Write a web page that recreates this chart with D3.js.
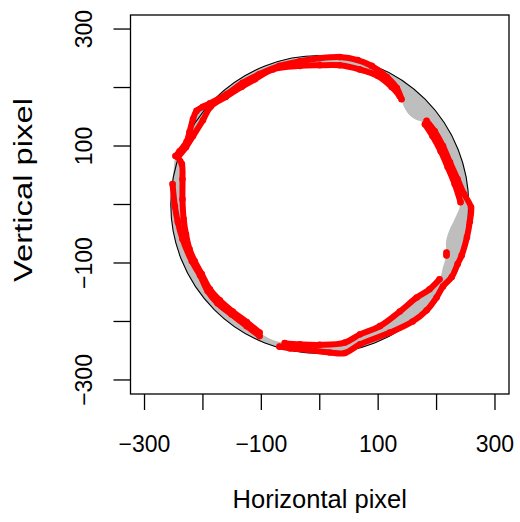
<!DOCTYPE html>
<html>
<head>
<meta charset="utf-8">
<script src="https://cdn.jsdelivr.net/npm/d3@7"></script>
<style>
  body { margin: 0; background: #ffffff; }
  svg text { font-family: "Liberation Sans", Arial, Helvetica, sans-serif; fill: #000000; }
</style>
</head>
<body>
<svg id="chart" width="520" height="522"></svg>
<script>
// target circle (stimulus path), in screen pixels
var targetRadius = 255;

// axis ticks
var axisTicks = [-300, -200, -100, 0, 100, 200, 300];
var axisLabels = [-300, -100, 100, 300];

// gaze samples, [x, y] in pixels; a third value 1 marks a saccade sample (no red mark)
var passA = [
  [-247, 83], [-240, 91], [-228, 107], [-223, 124], [-217, 146], [-211, 160], [-200, 167],
  [-188, 173], [-159, 189], [-132, 208], [-103, 223], [-69, 237], [-34, 245], [0, 250],
  [34, 252], [65, 247], [89, 237], [115, 218], [132, 199], [140, 180],
  [145, 166, 1], [156, 151, 1], [171, 143, 1],
  [183, 143], [197, 125], [211, 100], [223, 72], [236, 43], [247, 18], [259, -5], [257, -29],
  [252, -56], [243, -87], [236, -102], [226, -124], [211, -140], [200, -159], [183, -181],
  [159, -200], [120, -219], [69, -239], [43, -254], [17, -253], [-17, -249], [-51, -246],
  [-69, -243],
  [-86, -237, 1],
  [-103, -225], [-125, -208], [-151, -188], [-175, -169], [-192, -148], [-205, -121],
  [-219, -97], [-235, -59], [-243, -30], [-248, -3], [-252, 35],
  [-250, 60, 1]
];

var passB = [
  [-243, 81], [-229, 98], [-217, 117], [-200, 144], [-187, 167], [-161, 184], [-134, 201],
  [-111, 214], [-80, 231], [-34, 237], [0, 238], [34, 238], [68, 231], [99, 220], [123, 201],
  [137, 185],
  [145, 166, 1], [156, 151, 1], [171, 143, 1],
  [180, 137], [193, 117], [207, 91], [219, 64], [231, 35], [241, 4],
  [231, -25, 1], [221, -46, 1], [216, -65, 1],
  [217, -82], [217, -87],
  [211, -107, 1],
  [205, -128], [188, -145], [166, -159], [137, -183], [103, -208], [69, -222], [43, -236],
  [0, -240], [-34, -239], [-60, -237],
  [-86, -229, 1],
  [-103, -219], [-125, -201], [-149, -183], [-171, -164], [-188, -145], [-202, -119],
  [-214, -97], [-223, -76], [-229, -51], [-233, -25], [-235, 9], [-235, 43], [-236, 69]
];

var passes = [passA, passB];

(function(){
  'use strict';
  var svg = d3.select('#chart');
  var left = 130.5, right = 509, top = 15, bottom = 394;

  var x = d3.scaleLinear().domain([-324, 324]).range([left, right]);
  var y = d3.scaleLinear().domain([-324, 324]).range([bottom, top]);

  var cx = x(0), cy = y(0), rPx = x(targetRadius) - x(0);

  var plot = svg.append('g').attr('id', 'plot');

  // gray links: area between target circle and each gaze pass
  var polyLine = d3.line()
    .x(function(d){ return x(d[0]); })
    .y(function(d){ return y(d[1]); })
    .curve(d3.curveCatmullRomClosed.alpha(0.5));

  passes.forEach(function(pass){
    var p = d3.path();
    p.moveTo(cx + rPx, cy);
    p.arc(cx, cy, rPx, 0, 2 * Math.PI);
    p.closePath();
    plot.append('path')
      .attr('d', p.toString() + polyLine(pass))
      .attr('fill', '#bebebe')
      .attr('fill-rule', 'evenodd')
      .attr('stroke', 'none');
  });

  // target circle
  plot.append('circle')
    .attr('cx', cx).attr('cy', cy).attr('r', rPx)
    .attr('fill', 'none')
    .attr('stroke', '#000000')
    .attr('stroke-width', 1.1);

  // red gaze samples
  var gazeLine = d3.line()
    .defined(function(d){ return !d[2]; })
    .x(function(d){ return x(d[0]); })
    .y(function(d){ return y(d[1]); })
    .curve(d3.curveCatmullRom.alpha(0.5));

  passes.forEach(function(pass){
    var closed = pass.concat([pass[0]]);
    plot.append('path')
      .attr('d', gazeLine(closed))
      .attr('fill', 'none')
      .attr('stroke', '#ff0000')
      .attr('stroke-width', 6)
      .attr('stroke-linecap', 'round')
      .attr('stroke-linejoin', 'round');
    plot.append('g').selectAll('circle')
      .data(pass.filter(function(d){ return !d[2]; }))
      .enter()
      .append('circle')
      .attr('cx', function(d){ return x(d[0]); })
      .attr('cy', function(d){ return y(d[1]); })
      .attr('r', 2.6)
      .attr('fill', 'none')
      .attr('stroke', '#ff0000')
      .attr('stroke-width', 1.4);
  });

  // box
  svg.append('rect')
    .attr('x', left).attr('y', top)
    .attr('width', right - left).attr('height', bottom - top)
    .attr('fill', 'none')
    .attr('stroke', '#000000')
    .attr('stroke-width', 1.3);

  // x axis
  var xAxis = svg.append('g').attr('id', 'xAxis');
  xAxis.selectAll('line')
    .data(axisTicks)
    .enter()
    .append('line')
    .attr('x1', function(d){ return x(d); })
    .attr('x2', function(d){ return x(d); })
    .attr('y1', bottom)
    .attr('y2', bottom + 16)
    .attr('stroke', '#000000')
    .attr('stroke-width', 1.3);
  xAxis.selectAll('text')
    .data(axisLabels)
    .enter()
    .append('text')
    .attr('x', function(d){ return x(d); })
    .attr('y', 451.5)
    .style('font-size', '23px')
    .style('text-anchor', 'middle')
    .text(function(d){ return d < 0 ? '\u2212' + Math.abs(d) : d; });

  // y axis
  var yAxis = svg.append('g').attr('id', 'yAxis');
  yAxis.selectAll('line')
    .data(axisTicks)
    .enter()
    .append('line')
    .attr('x1', left - 17)
    .attr('x2', left)
    .attr('y1', function(d){ return y(d); })
    .attr('y2', function(d){ return y(d); })
    .attr('stroke', '#000000')
    .attr('stroke-width', 1.3);
  yAxis.selectAll('text')
    .data(axisLabels)
    .enter()
    .append('text')
    .attr('transform', function(d){ return 'translate(92,' + y(d) + ') rotate(-90)'; })
    .style('font-size', '23px')
    .style('text-anchor', 'middle')
    .text(function(d){ return d < 0 ? '\u2212' + Math.abs(d) : d; });

  // titles
  svg.append('text')
    .attr('x', (left + right) / 2)
    .attr('y', 508)
    .style('font-size', '25.5px')
    .style('text-anchor', 'middle')
    .text('Horizontal pixel');

  svg.append('text')
    .attr('transform', 'translate(32,190) rotate(-90)')
    .attr('textLength', 184)
    .attr('lengthAdjust', 'spacingAndGlyphs')
    .style('font-size', '25.5px')
    .style('text-anchor', 'middle')
    .text('Vertical pixel');
})();
</script>
</body>
</html>
